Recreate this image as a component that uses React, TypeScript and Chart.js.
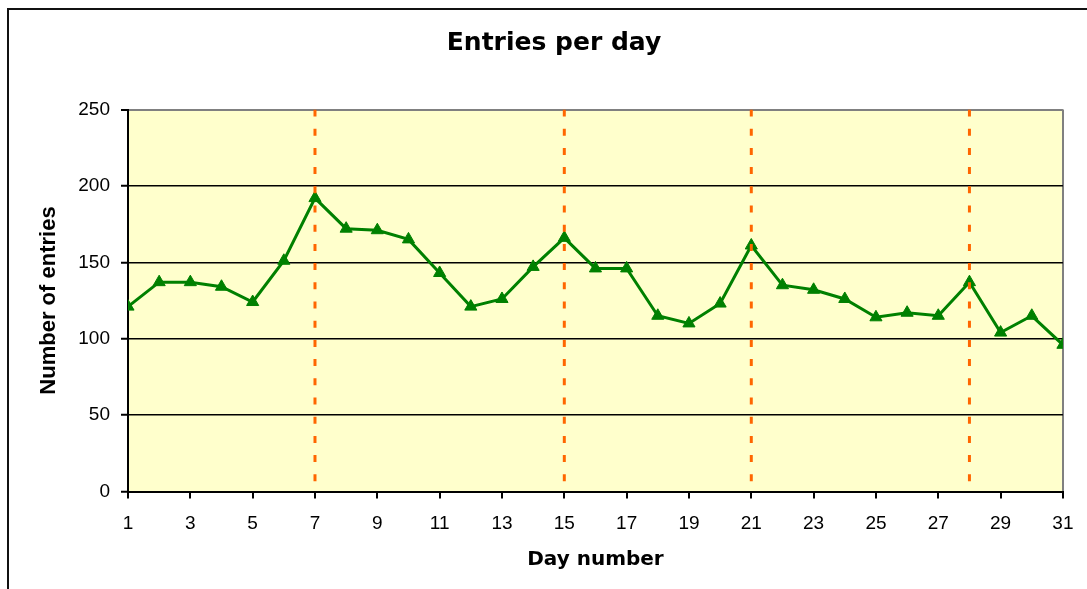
import React, { useEffect, useRef } from "react";
import { Chart, registerables } from "chart.js";

Chart.register(...registerables);

const DAYS = [1, 2, 3, 4, 5, 6, 7, 8, 9, 10, 11, 12, 13, 14, 15, 16, 17, 18, 19, 20, 21, 22, 23, 24, 25, 26, 27, 28, 29, 30, 31];
const ENTRIES = [121, 137, 137, 134, 124, 151, 192, 172, 171, 165, 143, 121, 126, 147, 166, 146, 146, 115, 110, 123, 161, 135, 132, 126, 114, 117, 115, 137, 104, 115, 96];
const MARKER_DAYS = [7, 15, 21, 28];
const X_MIN = 1;
const X_MAX = 31;
const X_STEP = 2;
const Y_MIN = 0;
const Y_MAX = 250;
const Y_STEP = 50;

const TITLE = "Entries per day";
const X_TITLE = "Day number";
const Y_TITLE = "Number of entries";

const plotBg = {
  id: "plotBg",
  beforeDraw(chart: any) {
    const { ctx, chartArea } = chart;
    if (!chartArea) return;
    ctx.save();
    ctx.fillStyle = "#FFFFCC";
    ctx.fillRect(chartArea.left, chartArea.top, chartArea.right - chartArea.left, chartArea.bottom - chartArea.top);
    ctx.restore();
  },
};

export default function App() {
  const ref = useRef<HTMLCanvasElement | null>(null);

  useEffect(() => {
    if (!ref.current) return;
    const markerSets = MARKER_DAYS.map((d) => ({
      label: "day " + d,
      data: [
        { x: d, y: Y_MAX },
        { x: d, y: Y_MIN },
      ],
      borderColor: "#FF6600",
      borderWidth: 3,
      borderDash: [7, 12.2],
      pointRadius: 0,
      fill: false,
      order: 0,
    }));
    const chart = new Chart(ref.current, {
      type: "line",
      data: {
        datasets: [
          ...markerSets,
          {
            label: "Entries",
            data: DAYS.map((d, i) => ({ x: d, y: ENTRIES[i] })),
            borderColor: "#008000",
            borderWidth: 3,
            pointStyle: "triangle",
            pointRadius: 7,
            pointBackgroundColor: "#008000",
            pointBorderColor: "#008000",
            pointBorderWidth: 1,
            tension: 0,
            fill: false,
            order: 1,
          },
        ],
      },
      options: {
        animation: false,
        responsive: false,
        devicePixelRatio: 1,
        events: [],
        layout: { padding: { left: 43, right: 22, top: 0, bottom: 0 } },
        plugins: {
          legend: { display: false },
          tooltip: { enabled: false },
          title: {
            display: true,
            text: TITLE,
            color: "#000",
            font: { family: "'DejaVu Sans', Verdana, sans-serif", size: 25, weight: "bold", lineHeight: 1.2 },
            padding: { top: 28, bottom: 51.5 },
          },
        },
        scales: {
          x: {
            type: "linear",
            min: X_MIN,
            max: X_MAX,
            afterFit(scale: any) {
              scale.height = 97.5;
            },
            ticks: {
              stepSize: X_STEP,
              autoSkip: false,
              color: "#000",
              padding: 13.5,
              maxRotation: 0,
              font: { family: "'Liberation Sans', Arial, sans-serif", size: 19 },
            },
            grid: {
              color: (c: any) => (c.tick && c.tick.value === X_MAX ? "#808080" : "rgba(0,0,0,0)"),
              lineWidth: 2,
              tickColor: "#000",
              tickWidth: 2,
              tickLength: 7,
            },
            border: { display: true, color: "#000", width: 2 },
            title: {
              display: true,
              text: X_TITLE,
              color: "#000",
              font: { family: "'DejaVu Sans', Verdana, sans-serif", size: 20, weight: "bold", lineHeight: 1.2 },
              padding: { top: 0, bottom: 17.5 },
            },
          },
          y: {
            type: "linear",
            min: Y_MIN,
            max: Y_MAX,
            afterFit(scale: any) {
              scale.width = 85;
            },
            ticks: {
              stepSize: Y_STEP,
              color: "#000",
              padding: 11,
              font: { family: "'Liberation Sans', Arial, sans-serif", size: 19 },
            },
            grid: {
              color: (c: any) => (c.tick && c.tick.value === Y_MAX ? "#808080" : "#000"),
              lineWidth: (c: any) => (c.tick && c.tick.value === Y_MAX ? 2 : 1.5),
              tickColor: "#000",
              tickWidth: 2,
              tickLength: 7,
            },
            border: { display: true, color: "#000", width: 2 },
            title: {
              display: true,
              text: Y_TITLE,
              color: "#000",
              font: { family: "'Liberation Sans', Arial, sans-serif", size: 22, weight: "bold", lineHeight: 0.5 },
              padding: { top: 0.5, bottom: 0 },
            },
          },
        },
      },
      plugins: [plotBg],
    } as any);
    return () => chart.destroy();
  }, []);

  return (
    <div style={{ position: "fixed", left: 0, top: 0, width: 1087, height: 589, overflow: "hidden", background: "#fff" }}>
      <div
        style={{
          position: "absolute",
          left: 7,
          top: 8,
          width: 2000,
          height: 2000,
          borderTop: "2px solid #111",
          borderLeft: "2px solid #111",
        }}
      />
      <canvas ref={ref} width={1087} height={589} style={{ position: "absolute", left: 0, top: 0, display: "block" }} />
    </div>
  );
}
